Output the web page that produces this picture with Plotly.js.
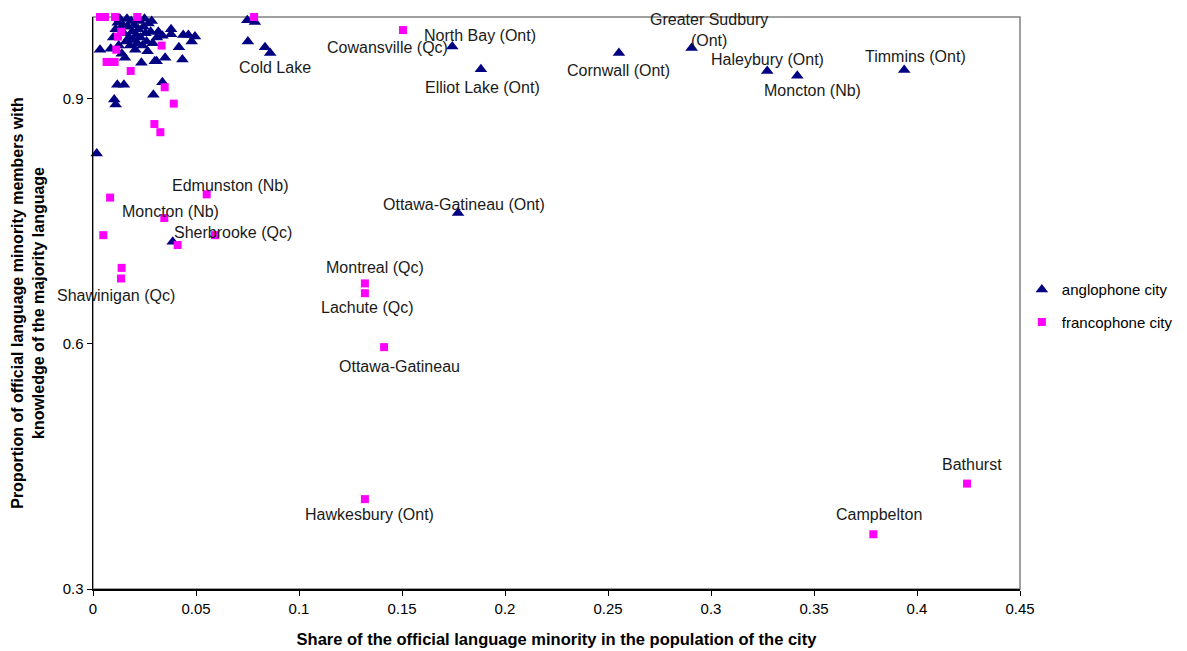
<!DOCTYPE html>
<html>
<head>
<meta charset="utf-8">
<script src="https://cdn.plot.ly/plotly-3.0.1.min.js"></script>
<style>html,body{margin:0;padding:0;background:#fff;}#chart{width:1187px;height:651px;}</style>
</head>
<body>
<div id="chart"></div>
<script>
// Anglophone cities: share of minority (x) and proportion knowing majority language (y)
const anglophoneShare = [
  0.0034,0.0086,0.0098,0.0110,0.0120,0.0130,0.0145,0.0150,0.0160,0.0165,0.0170,0.0175,0.0180,0.0185,0.0190,0.0195,
  0.0200,0.0205,0.0210,0.0215,0.0220,0.0225,0.0230,0.0235,0.0240,0.0245,0.0250,0.0255,0.0260,0.0265,0.0270,0.0280,
  0.0290,0.0300,0.0310,0.0317,0.0140,0.0125,0.0155,0.0285,0.0337,0.0379,0.0379,0.0438,0.0463,0.0495,0.0479,0.0417,
  0.0434,0.0350,0.0309,0.0293,0.0337,0.0118,0.0150,0.0103,0.0110,0.0018,0.0387,
  0.0749,0.0786,0.0752,0.0835,0.0860,
  0.1744,0.1883,0.2553,0.2906,0.3273,0.3419,0.3938,0.1772
];
const anglophoneKnow = [
  0.960,0.961,0.975,0.985,0.993,0.998,0.990,0.980,0.970,0.998,0.988,0.975,0.965,0.995,0.982,0.972,
  0.990,0.960,0.978,0.968,0.985,0.995,0.975,0.944,0.965,0.988,0.998,0.980,0.970,0.958,0.992,0.982,
  0.968,0.946,0.975,0.982,0.955,0.965,0.950,0.995,0.977,0.985,0.979,0.978,0.978,0.976,0.970,0.963,
  0.948,0.950,0.946,0.905,0.920,0.917,0.917,0.899,0.893,0.833,0.725,
  0.996,0.994,0.970,0.963,0.956,
  0.964,0.936,0.956,0.962,0.934,0.928,0.935,0.760
];
// Francophone cities
const francophoneShare = [
  0.0034,0.0058,0.0107,0.0215,0.0782,0.0137,0.0121,0.0113,0.0081,0.0105,0.0066,0.0183,0.0333,0.0348,0.0392,0.0298,0.0327,
  0.1505,0.0552,0.0346,0.0592,0.0411,0.0083,0.0050,0.0139,0.0136,
  0.1320,0.1320,0.1413,0.1320,0.4243,0.3788
];
const francophoneKnow = [
  1.000,1.000,1.000,1.000,1.000,0.982,0.976,0.960,0.945,0.945,0.945,0.934,0.965,0.914,0.894,0.869,0.859,
  0.984,0.783,0.754,0.733,0.721,0.779,0.733,0.693,0.680,
  0.674,0.662,0.596,0.410,0.429,0.367
];

// Labelled cities: series, index into that series, name
const labelSeries = ['a','a','a','a','a','a','a','a','a',
                     'f','f','f','f','f','f','f','f','f','f','f'];
const labelIndex  = [64,65,66,67,68,69,70,71,63,
                     17,18,19,20,25,26,27,28,29,30,31];
const labelNames  = ['North Bay (Ont)','Elliot Lake (Ont)','Cornwall (Ont)','Greater Sudbury<br>(Ont)','Haleybury (Ont)',
                     'Moncton (Nb)','Timmins (Ont)','Ottawa-Gatineau (Ont)','Cold Lake',
                     'Cowansville (Qc)','Edmunston (Nb)','Moncton (Nb)','Sherbrooke (Qc)','Shawinigan (Qc)',
                     'Montreal (Qc)','Lachute (Qc)','Ottawa-Gatineau','Hawkesbury (Ont)','Bathurst','Campbelton'];
// label offsets in pixels (dx right, dy down)
const labelDx = [28,2,0,17,0,15,11,6,5, -16,24,6,18,-5,10,2,15,5,5,6];
const labelDy = [-11,18,18,-18,-11,15,-14,-9,15, 17,-9,-7,-3,17,-16,14,19,15,-19,-20];

const xTicks = [0,0.05,0.1,0.15,0.2,0.25,0.3,0.35,0.4,0.45];
const xTickText = ['0','0.05','0.1','0.15','0.2','0.25','0.3','0.35','0.4','0.45'];
const yTicks = [0.3,0.6,0.9];
const yTickText = ['0.3','0.6','0.9'];

const FONT = 'Liberation Sans, Arial, sans-serif';

const annotations = labelNames.map((name, i) => {
  const xs = labelSeries[i] === 'a' ? anglophoneShare : francophoneShare;
  const ys = labelSeries[i] === 'a' ? anglophoneKnow : francophoneKnow;
  return {
    x: xs[labelIndex[i]], y: ys[labelIndex[i]], xref: 'x', yref: 'y',
    text: name, showarrow: false, xshift: labelDx[i], yshift: -labelDy[i],
    font: {family: FONT, size: 16, color: '#1a1a1a'}, align: 'center'
  };
});

const traces = [
  {
    type: 'scatter', mode: 'markers', name: 'anglophone city',
    x: anglophoneShare, y: anglophoneKnow, cliponaxis: false,
    marker: {symbol: 'triangle-up', size: 11, color: '#000080'},
    legendgroup: 'a'
  },
  {
    type: 'scatter', mode: 'markers', name: 'francophone city',
    x: francophoneShare, y: francophoneKnow, cliponaxis: false,
    marker: {symbol: 'square', size: 8, color: '#ff00ff'},
    legendgroup: 'f'
  }
];

const layout = {
  width: 1187, height: 651,
  margin: {l: 93, r: 167, t: 17, b: 62, autoexpand: false},
  paper_bgcolor: '#fff', plot_bgcolor: '#fff',
  font: {family: FONT, size: 15, color: '#000'},
  showlegend: true,
  legend: {x: 1.002, y: 0.495, xanchor: 'left', yanchor: 'middle', font: {family: FONT, size: 15, color: '#000'},
           traceorder: 'grouped', tracegroupgap: 10, itemwidth: 30, bgcolor: 'rgba(0,0,0,0)'},
  xaxis: {
    range: [0, 0.45], tickvals: xTicks, ticktext: xTickText, showgrid: false, zeroline: false,
    showline: true, linecolor: '#000', linewidth: 1.5, ticks: 'outside', ticklen: 5, tickcolor: '#000',
    tickfont: {family: FONT, size: 15}, automargin: false,
    title: {text: '<b>Share of the official language minority in the population of the city</b>',
            font: {family: FONT, size: 16.5}, standoff: 18}
  },
  yaxis: {
    range: [0.3, 1.0], tickvals: yTicks, ticktext: yTickText, showgrid: false, zeroline: false,
    showline: true, linecolor: '#000', linewidth: 1.5, ticks: 'outside', ticklen: 5, tickcolor: '#000',
    tickfont: {family: FONT, size: 15}, automargin: false,
    title: {text: '<b>Proportion of official language minority members with<br>knowledge of the majority language</b>',
            font: {family: FONT, size: 16}, standoff: 14}
  },
  shapes: [{type: 'rect', xref: 'paper', yref: 'paper', x0: 0, x1: 1, y0: 0, y1: 1,
            line: {color: '#808080', width: 1.5}, layer: 'below'}],
  annotations: annotations
};

Plotly.newPlot('chart', traces, layout, {displayModeBar: false, staticPlot: true});
</script>
</body>
</html>
